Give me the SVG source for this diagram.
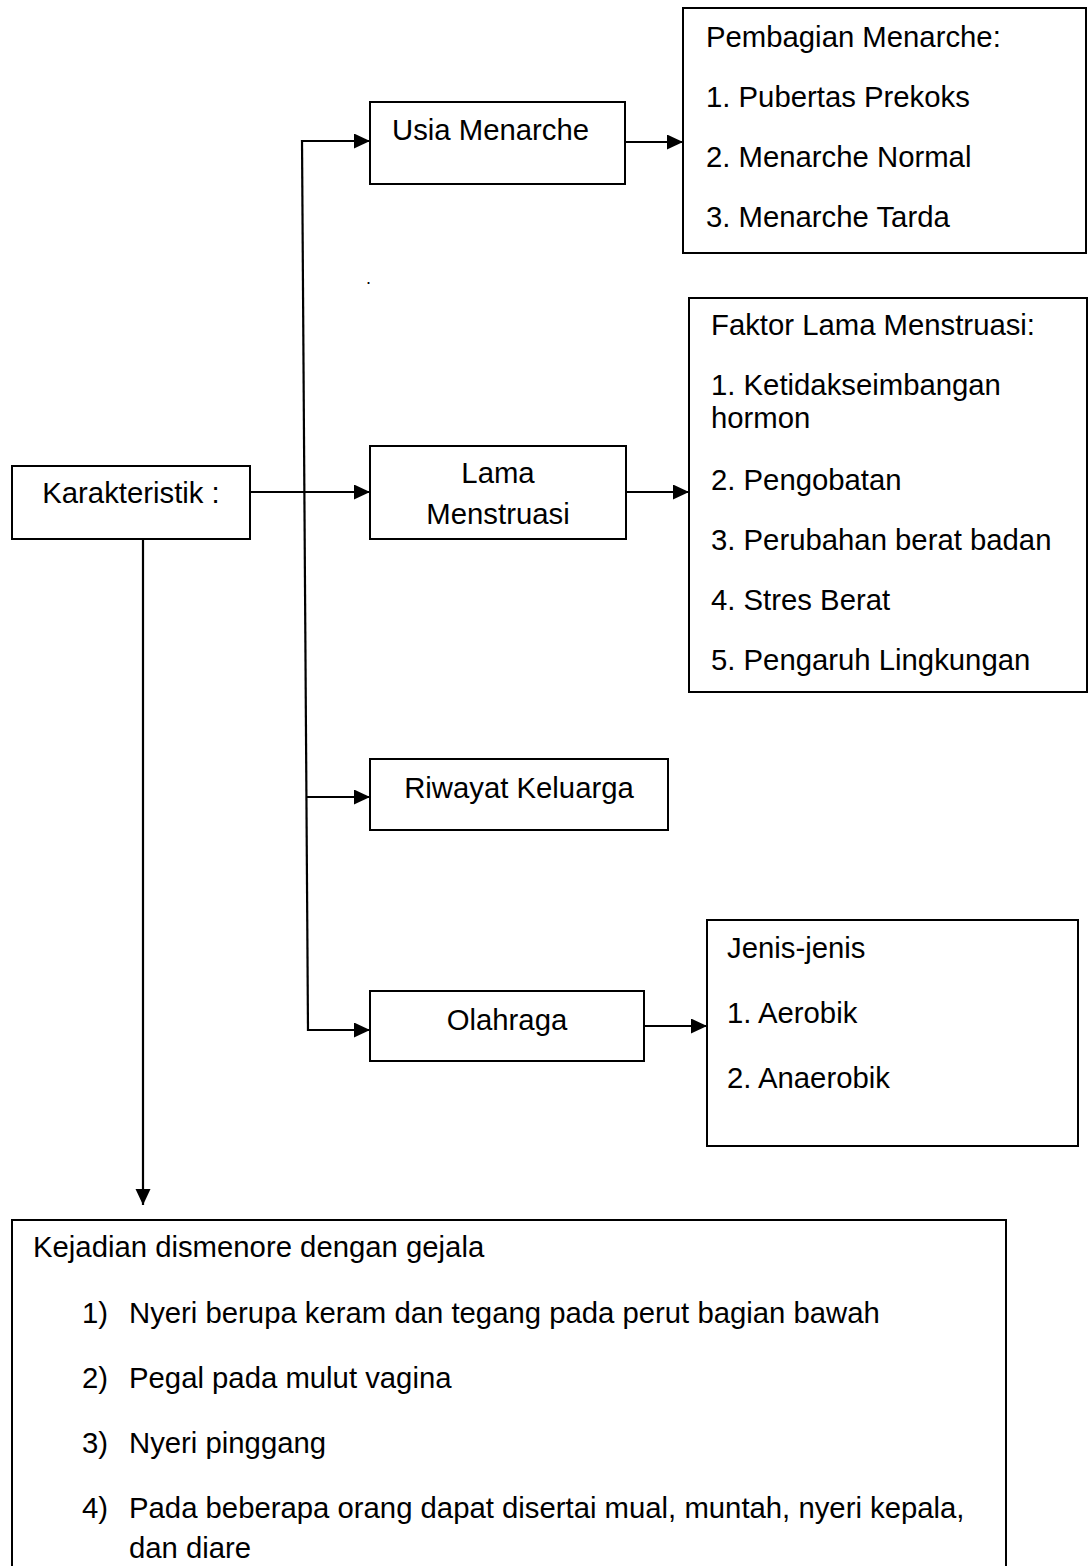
<svg xmlns="http://www.w3.org/2000/svg" width="1088" height="1566" viewBox="0 0 1088 1566">
<style>
text{font-family:"Liberation Sans",Arial,sans-serif;font-size:29.3px;fill:#000}
.box{fill:#fff;stroke:#000;stroke-width:2}
.ln{fill:none;stroke:#000;stroke-width:2.2}
.arr{marker-end:url(#ah)}
.c{text-anchor:middle}
</style>
<defs>
<marker id="ah" markerUnits="userSpaceOnUse" markerWidth="18" markerHeight="18" refX="16" refY="7.5" orient="auto">
<polygon points="0,0 16,7.5 0,15" fill="#000"/>
</marker>
</defs>
<rect width="1088" height="1566" fill="#fff"/>
<g id="connectors">
<line class="ln" x1="302" y1="140" x2="308" y2="1031"/>
<line class="ln arr" x1="302" y1="141" x2="370" y2="141"/>
<line class="ln arr" x1="251" y1="492" x2="370" y2="492"/>
<line class="ln arr" x1="306.5" y1="797" x2="370" y2="797"/>
<line class="ln arr" x1="308" y1="1030" x2="370" y2="1030"/>
<line class="ln arr" x1="626" y1="142" x2="683" y2="142"/>
<line class="ln arr" x1="627" y1="492" x2="689" y2="492"/>
<line class="ln arr" x1="645" y1="1026" x2="707" y2="1026"/>
<line class="ln arr" x1="143" y1="539" x2="143" y2="1205"/>
</g>
<g id="karakteristik">
<rect class="box" x="12" y="466" width="238" height="73"/>
<text class="c" x="131" y="503">Karakteristik :</text>
</g>
<g id="usia-menarche">
<rect class="box" x="370" y="102" width="255" height="82"/>
<text x="392" y="140">Usia Menarche</text>
</g>
<g id="pembagian-menarche">
<rect class="box" x="683" y="8" width="403" height="245"/>
<text x="706" y="47">Pembagian Menarche:</text>
<text x="706" y="107">1. Pubertas Prekoks</text>
<text x="706" y="167">2. Menarche Normal</text>
<text x="706" y="227">3. Menarche Tarda</text>
</g>
<g id="dot">
<text x="366" y="284" style="font-size:18px">.</text>
</g>
<g id="lama-menstruasi">
<rect class="box" x="370" y="446" width="256" height="93"/>
<text class="c" x="498" y="483">Lama</text>
<text class="c" x="498" y="524">Menstruasi</text>
</g>
<g id="faktor-lama">
<rect class="box" x="689" y="298" width="398" height="394"/>
<text x="711" y="335">Faktor Lama Menstruasi:</text>
<text x="711" y="395">1. Ketidakseimbangan</text>
<text x="711" y="428">hormon</text>
<text x="711" y="490">2. Pengobatan</text>
<text x="711" y="550">3. Perubahan berat badan</text>
<text x="711" y="610">4. Stres Berat</text>
<text x="711" y="670">5. Pengaruh Lingkungan</text>
</g>
<g id="riwayat-keluarga">
<rect class="box" x="370" y="759" width="298" height="71"/>
<text class="c" x="519" y="798">Riwayat Keluarga</text>
</g>
<g id="olahraga">
<rect class="box" x="370" y="991" width="274" height="70"/>
<text class="c" x="507" y="1030">Olahraga</text>
</g>
<g id="jenis-jenis">
<rect class="box" x="707" y="920" width="371" height="226"/>
<text x="727" y="958">Jenis-jenis</text>
<text x="727" y="1023">1. Aerobik</text>
<text x="727" y="1088">2. Anaerobik</text>
</g>
<g id="kejadian-dismenore">
<rect class="box" x="12" y="1220" width="994" height="360"/>
<text x="33" y="1257">Kejadian dismenore dengan gejala</text>
<text x="82" y="1323">1)</text>
<text x="129" y="1323">Nyeri berupa keram dan tegang pada perut bagian bawah</text>
<text x="82" y="1388">2)</text>
<text x="129" y="1388">Pegal pada mulut vagina</text>
<text x="82" y="1453">3)</text>
<text x="129" y="1453">Nyeri pinggang</text>
<text x="82" y="1518">4)</text>
<text x="129" y="1518">Pada beberapa orang dapat disertai mual, muntah, nyeri kepala,</text>
<text x="129" y="1558">dan diare</text>
</g>
</svg>
